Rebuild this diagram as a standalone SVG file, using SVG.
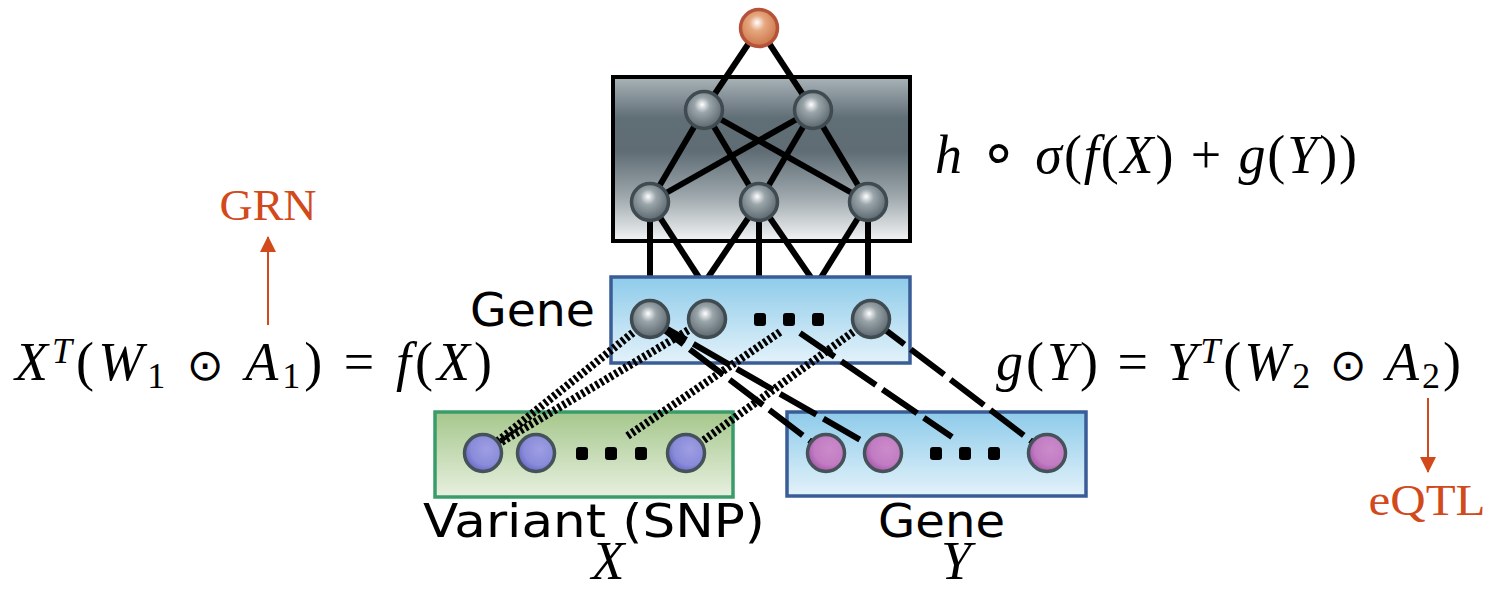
<svg xmlns="http://www.w3.org/2000/svg" width="1488" height="590" viewBox="0 0 1488 590">
<defs>
<linearGradient id="gDark" x1="0" y1="0" x2="0" y2="1">
<stop offset="0" stop-color="#aab4b9"/><stop offset="0.25" stop-color="#606e76"/><stop offset="0.45" stop-color="#5f6c74"/><stop offset="0.72" stop-color="#9ba5aa"/><stop offset="1" stop-color="#f3f4f5"/>
</linearGradient>
<linearGradient id="gBlue" x1="0" y1="0" x2="0" y2="1">
<stop offset="0" stop-color="#8ecbea"/><stop offset="1" stop-color="#e3f2fa"/>
</linearGradient>
<linearGradient id="gGreen" x1="0" y1="0" x2="0" y2="1">
<stop offset="0" stop-color="#a5c78c"/><stop offset="1" stop-color="#e8f0e0"/>
</linearGradient>
<radialGradient id="rGray" cx="0.45" cy="0.4" r="0.6" fx="0.45" fy="0.35">
<stop offset="0" stop-color="#ffffff"/><stop offset="0.35" stop-color="#9aa5aa"/><stop offset="1" stop-color="#5a676d"/>
</radialGradient>
<radialGradient id="rOrange" cx="0.45" cy="0.4" r="0.6" fx="0.45" fy="0.35">
<stop offset="0" stop-color="#ffffff"/><stop offset="0.35" stop-color="#e6a880"/><stop offset="1" stop-color="#cc7448"/>
</radialGradient>
<radialGradient id="rViolet" cx="0.6" cy="0.4" r="0.7">
<stop offset="0" stop-color="#9d9ee2"/><stop offset="0.6" stop-color="#8b8cda"/><stop offset="1" stop-color="#5d5fc2"/>
</radialGradient>
<radialGradient id="rMag" cx="0.6" cy="0.4" r="0.7">
<stop offset="0" stop-color="#cb8bcb"/><stop offset="0.6" stop-color="#c27cc2"/><stop offset="1" stop-color="#9c4aa2"/>
</radialGradient>
<marker id="arr2" viewBox="0 0 16 16" refX="15" refY="8" markerWidth="16" markerHeight="16" markerUnits="userSpaceOnUse" orient="auto">
<path d="M0,0 L16,8 L0,16 z" fill="#d24a1c"/>
</marker>
</defs>
<style>
.net{stroke:#000;stroke-width:6;fill:none;stroke-linecap:butt}
.dot{stroke:#000;stroke-width:8;stroke-dasharray:3 2.5;fill:none}
.dash{stroke:#000;stroke-width:6;stroke-dasharray:42 8;fill:none}
.gray{fill:url(#rGray);stroke:#3f4b51;stroke-width:3.5}
.orange{fill:url(#rOrange);stroke:#b4533a;stroke-width:3.5}
.violet{fill:url(#rViolet);stroke:#46525a;stroke-width:3.5}
.mag{fill:url(#rMag);stroke:#46525a;stroke-width:3.5}
.ell{fill:#000}
.lbl{font-family:'DejaVu Sans',sans-serif;font-size:46px;fill:#000}
.math{font-family:'Liberation Serif',serif;font-size:54px;fill:#000}
.op{font-family:'DejaVu Sans',sans-serif;font-size:44px}
.ring{font-family:'DejaVu Sans',sans-serif;font-size:62px}
.i{font-style:italic}
.s{font-size:36px}
.red{font-family:'Liberation Serif',serif;font-size:44px;fill:#d24a1c}
.arrow{stroke:#d24a1c;stroke-width:2;fill:none}
</style>

<g id="hidden-box">
<rect x="613" y="77" width="297" height="164" fill="url(#gDark)" stroke="#000" stroke-width="4"/>
</g>

<g id="connectors">
<g id="net-edges">
<line class="net" x1="759" y1="28" x2="704" y2="110"/>
<line class="net" x1="759" y1="28" x2="813" y2="110"/>
<line class="net" x1="704" y1="110" x2="650" y2="202"/>
<line class="net" x1="704" y1="110" x2="759" y2="202"/>
<line class="net" x1="704" y1="110" x2="868" y2="202"/>
<line class="net" x1="813" y1="110" x2="650" y2="202"/>
<line class="net" x1="813" y1="110" x2="759" y2="202"/>
<line class="net" x1="813" y1="110" x2="868" y2="202"/>
<line class="net" x1="650" y1="202" x2="650" y2="279"/>
<line class="net" x1="650" y1="202" x2="700" y2="279"/>
<line class="net" x1="759" y1="202" x2="707" y2="279"/>
<line class="net" x1="759" y1="202" x2="759" y2="279"/>
<line class="net" x1="759" y1="202" x2="812" y2="279"/>
<line class="net" x1="868" y1="202" x2="820" y2="279"/>
<line class="net" x1="868" y1="202" x2="868" y2="279"/>
</g>
</g>

<g id="gene-box">
<rect x="611" y="277" width="299" height="86" fill="url(#gBlue)" stroke="#3a5d97" stroke-width="3.5"/>
</g>
<g id="variant-box">
<rect x="435" y="412" width="298" height="85" fill="url(#gGreen)" stroke="#3a9c6a" stroke-width="3.5"/>
</g>
<g id="gene-y-box">
<rect x="787" y="412" width="299" height="84" fill="url(#gBlue)" stroke="#3a5d97" stroke-width="3.5"/>
</g>

<g id="links">
<line class="dot" x1="650" y1="319" x2="483" y2="453"/>
<line class="dot" x1="707" y1="319" x2="483" y2="453"/>
<line class="dot" x1="780" y1="332" x2="626" y2="437"/>
<line class="dot" x1="871" y1="319" x2="686" y2="453"/>
<line class="dash" x1="650" y1="319" x2="826" y2="453"/>
<line class="dash" x1="650" y1="319" x2="883" y2="453"/>
<line class="dash" x1="800" y1="333" x2="952" y2="437"/>
<line class="dash" x1="871" y1="319" x2="1047" y2="453"/>
</g>

<g id="out"><circle class="orange" cx="759" cy="28" r="18.5"/></g>
<g id="h1a"><circle class="gray" cx="704" cy="110" r="18.5"/></g>
<g id="h1b"><circle class="gray" cx="813" cy="110" r="18.5"/></g>
<g id="h2a"><circle class="gray" cx="650" cy="202" r="18.5"/></g>
<g id="h2b"><circle class="gray" cx="759" cy="202" r="18.5"/></g>
<g id="h2c"><circle class="gray" cx="868" cy="202" r="18.5"/></g>

<g id="gene1"><circle class="gray" cx="650" cy="319" r="18.5"/></g>
<g id="gene2"><circle class="gray" cx="707" cy="319" r="18.5"/></g>
<g id="gene-dots">
<rect class="ell" x="754" y="313" width="12" height="13" rx="3"/>
<rect class="ell" x="783" y="313" width="12" height="13" rx="3"/>
<rect class="ell" x="812" y="313" width="12" height="13" rx="3"/>
</g>
<g id="gene3"><circle class="gray" cx="871" cy="319" r="18.5"/></g>

<g id="snp1"><circle class="violet" cx="483" cy="453" r="18.5"/></g>
<g id="snp2"><circle class="violet" cx="536" cy="453" r="18.5"/></g>
<g id="snp-dots">
<rect class="ell" x="576" y="447" width="12" height="13" rx="3"/>
<rect class="ell" x="605" y="447" width="12" height="13" rx="3"/>
<rect class="ell" x="635" y="447" width="12" height="13" rx="3"/>
</g>
<g id="snp3"><circle class="violet" cx="686" cy="453" r="18.5"/></g>

<g id="gy1"><circle class="mag" cx="826" cy="453" r="18.5"/></g>
<g id="gy2"><circle class="mag" cx="883" cy="453" r="18.5"/></g>
<g id="gy-dots">
<rect class="ell" x="930" y="447" width="12" height="13" rx="3"/>
<rect class="ell" x="959" y="447" width="12" height="13" rx="3"/>
<rect class="ell" x="988" y="447" width="12" height="13" rx="3"/>
</g>
<g id="gy3"><circle class="mag" cx="1047" cy="453" r="18.5"/></g>

<g id="labels">
<text class="lbl" x="470" y="326" textLength="125" lengthAdjust="spacingAndGlyphs">Gene</text>
<text class="lbl" x="423" y="537" textLength="342" lengthAdjust="spacingAndGlyphs">Variant (SNP)</text>
<text class="lbl" x="878" y="537" textLength="127" lengthAdjust="spacingAndGlyphs">Gene</text>
<text class="math i" x="608" y="579" text-anchor="middle" font-size="44">X</text>
<text class="math i" x="956" y="579" text-anchor="middle" font-size="44">Y</text>
</g>

<g id="formulas">
<text class="math" x="935" y="173" textLength="422" lengthAdjust="spacing"><tspan class="i">h</tspan> <tspan class="ring">∘</tspan> <tspan class="i">σ</tspan>(<tspan class="i">f</tspan>(<tspan class="i">X</tspan>) + <tspan class="i">g</tspan>(<tspan class="i">Y</tspan>))</text>
<text class="math" x="15" y="380" textLength="477" lengthAdjust="spacing"><tspan class="i">X</tspan><tspan class="s i" dy="-17">T</tspan><tspan dy="17">(</tspan><tspan class="i">W</tspan><tspan class="s" dy="8">1</tspan><tspan dy="-8"> </tspan><tspan class="op">⊙</tspan> <tspan class="i">A</tspan><tspan class="s" dy="8">1</tspan><tspan dy="-8">) = </tspan><tspan class="i">f</tspan>(<tspan class="i">X</tspan>)</text>
<text class="math" x="996" y="380" textLength="465" lengthAdjust="spacing"><tspan class="i">g</tspan>(<tspan class="i">Y</tspan>) = <tspan class="i">Y</tspan><tspan class="s i" dy="-17">T</tspan><tspan dy="17">(</tspan><tspan class="i">W</tspan><tspan class="s" dy="8">2</tspan><tspan dy="-8"> </tspan><tspan class="op">⊙</tspan> <tspan class="i">A</tspan><tspan class="s" dy="8">2</tspan><tspan dy="-8">)</tspan></text>
</g>

<g id="annotations">
<line class="arrow" x1="268" y1="325" x2="268" y2="237" marker-end="url(#arr2)"/>
<text class="red" x="268" y="220" text-anchor="middle" textLength="97" lengthAdjust="spacingAndGlyphs">GRN</text>
<line class="arrow" x1="1428" y1="398" x2="1428" y2="472" marker-end="url(#arr2)"/>
<text class="red" x="1427" y="515" text-anchor="middle" textLength="117" lengthAdjust="spacingAndGlyphs">eQTL</text>
</g>
</svg>
